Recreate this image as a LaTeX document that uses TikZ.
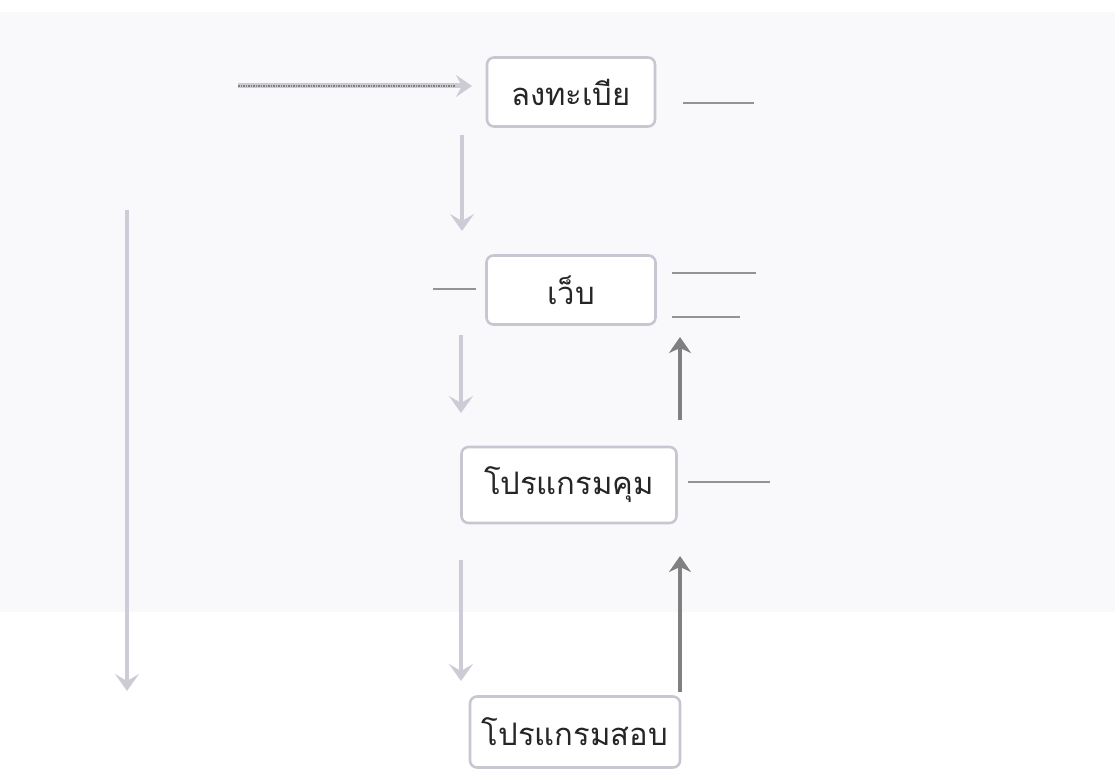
\documentclass[tikz,border=0pt]{standalone}
\usepackage{fontspec}
\newfontfamily\thaifont[Script=Thai]{Loma}
\usetikzlibrary{arrows.meta}
\definecolor{scanbg}{rgb}{0.978,0.978,0.988}
\definecolor{boxedge}{rgb}{0.78,0.78,0.82}
\definecolor{lightarrow}{rgb}{0.80,0.80,0.84}
\definecolor{darkarrow}{rgb}{0.50,0.50,0.50}
\tikzset{
  stepbox/.style={draw=boxedge, line width=2.6pt, rounded corners=7pt, fill=white,
    font=\thaifont\fontsize{31}{36}\selectfont, text=black!85, inner sep=0pt},
  downarrow/.style={draw=lightarrow, line width=4.5pt,
    -{Stealth[length=17pt,width=24pt,inset=7pt]}},
  uparrow/.style={draw=darkarrow, line width=3.6pt,
    -{Stealth[length=16pt,width=22pt,inset=5pt]}},
  stub/.style={draw=darkarrow!85, line width=1.4pt}
}
\begin{document}
\begin{tikzpicture}[x=1pt,y=-1pt]
\useasboundingbox (0,0) rectangle (1115,775);
\fill[scanbg] (0,12) rectangle (1115,612);

\node[stepbox, minimum width=168pt, minimum height=69pt] (reg) at (571,92) {ลงทะเบีย};
\node[stepbox, minimum width=169pt, minimum height=69pt] (web) at (571,290) {เว็บ};
\node[stepbox, minimum width=215pt, minimum height=76pt] (ctrl) at (569,485) {โปรแกรมคุม};
\node[stepbox, minimum width=210pt, minimum height=71pt] (test) at (575,732) {โปรแกรมสอบ};

% entry arrow
\coordinate (inS) at (238,86);
\coordinate (inE) at (472,86);
\draw[draw=lightarrow, line width=5pt, -{Stealth[length=16pt,width=22pt,inset=6pt]}] (inS) -- (inE);
\draw[draw=darkarrow, line width=1.4pt, dash pattern=on 1.5pt off 1pt] (inS) -- ([xshift=-17pt]inE);

% stubs
\coordinate (s1a) at (683,103); \coordinate (s1b) at (754,103);
\draw[stub] (s1a) -- (s1b);
\coordinate (s2a) at (433,289); \coordinate (s2b) at (476,289);
\draw[stub] (s2a) -- (s2b);
\coordinate (s3a) at (672,273); \coordinate (s3b) at (756,273);
\draw[stub] (s3a) -- (s3b);
\coordinate (s4a) at (672,317); \coordinate (s4b) at (740,317);
\draw[stub] (s4a) -- (s4b);
\coordinate (s5a) at (688,482); \coordinate (s5b) at (770,482);
\draw[stub] (s5a) -- (s5b);

% down arrows
\coordinate (d1a) at (462,135); \coordinate (d1b) at (462,231);
\draw[downarrow] (d1a) -- (d1b);
\coordinate (d2a) at (461,335); \coordinate (d2b) at (461,413);
\draw[downarrow] (d2a) -- (d2b);
\coordinate (d3a) at (461,560); \coordinate (d3b) at (461,681);
\draw[downarrow] (d3a) -- (d3b);
\coordinate (d4a) at (127,210); \coordinate (d4b) at (127,691);
\draw[downarrow] (d4a) -- (d4b);

% up arrows
\coordinate (u1a) at (680,420); \coordinate (u1b) at (680,337);
\draw[uparrow] (u1a) -- (u1b);
\coordinate (u2a) at (680,692); \coordinate (u2b) at (680,556);
\draw[uparrow] (u2a) -- (u2b);
\end{tikzpicture}
\end{document}
